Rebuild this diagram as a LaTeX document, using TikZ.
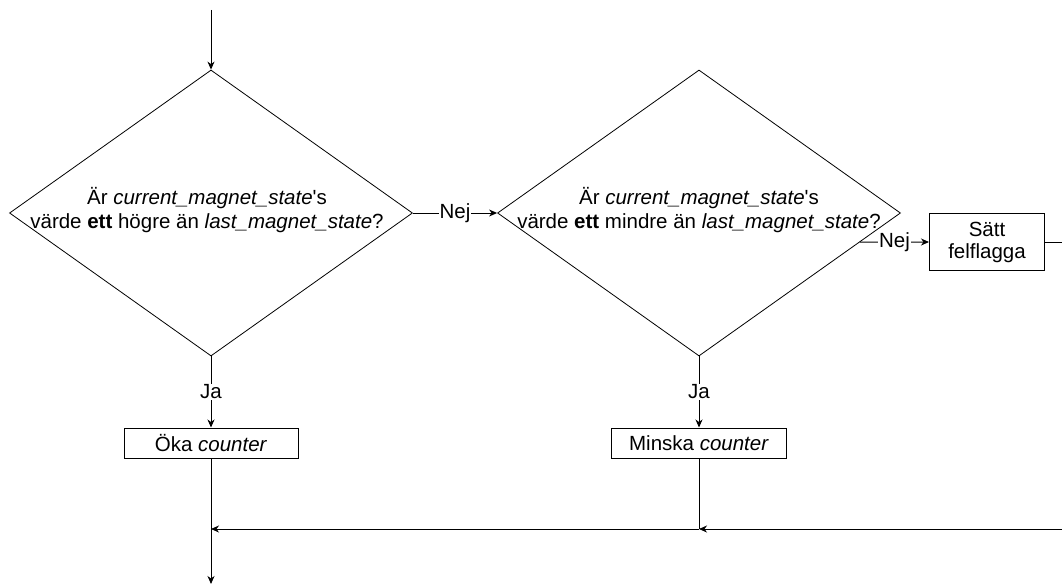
\documentclass[tikz,border=0pt]{standalone}
\usepackage{fontspec}
\setmainfont{Liberation Sans}
\usetikzlibrary{shapes.geometric,arrows.meta,calc}
\begin{document}
\begin{tikzpicture}[x=1pt,y=-1pt,
  font=\fontsize{20.5}{24}\selectfont,
  line width=1pt,
  >={Stealth[length=8pt,width=7pt,inset=2.5pt]},
  decision/.style={draw, diamond, minimum width=403pt, minimum height=286pt,
    inner sep=0pt, line width=0.8pt},
  process/.style={draw, rectangle, inner sep=0pt, align=center},
  edgelabel/.style={fill=white, inner sep=1pt}]
\useasboundingbox (0,0) rectangle (1062,586);

% decisions
\node[decision] (d1) at (211,213) {};
\node[align=center] (d1text) at (207,210)
  {Är \textit{current\_magnet\_state}\textquotesingle s\\värde \textbf{ett} högre än \textit{last\_magnet\_state}?};
\node[decision] (d2) at (699,213) {};
\node[align=center] (d2text) at (699,210)
  {Är \textit{current\_magnet\_state}\textquotesingle s\\värde \textbf{ett} mindre än \textit{last\_magnet\_state}?};

% actions
\node[process, minimum width=174pt, minimum height=30pt] (b1) at (211,443) {Öka \textit{counter}};
\node[process, minimum width=175pt, minimum height=30pt] (b2) at (699,443) {Minska \textit{counter}};
\node[process, minimum width=115pt, minimum height=57pt, font=\fontsize{20.5}{22}\selectfont]
  (b3) at (987,242) {Sätt\\felflagga};

% flow points
\coordinate (start) at (211,10);
\coordinate (n2) at ($(d2.east)!0.203!(d2.south)$);
\coordinate (rout) at (1062,242);
\coordinate (rin) at (1062,529);
\coordinate (j2) at (699,529);
\coordinate (j1) at (211,529);
\coordinate (finish) at (211,584);

% connectors
\draw[->] (start) -- (d1.north);
\draw[->] (d1.east) -- node[edgelabel]{Nej} (d2.west);
\draw[->] (d1.south) -- node[edgelabel]{Ja} (b1.north);
\draw[->] (d2.south) -- node[edgelabel]{Ja} (b2.north);
\draw[->] (n2) -- node[edgelabel]{Nej} (b3.west);
\draw (b3.east) -- (rout);
\draw (b2.south) -- (j2);
\draw[->] (rin) -- (j2);
\draw[->] (j2) -- (j1);
\draw[->] (b1.south) -- (finish);
\end{tikzpicture}
\end{document}
